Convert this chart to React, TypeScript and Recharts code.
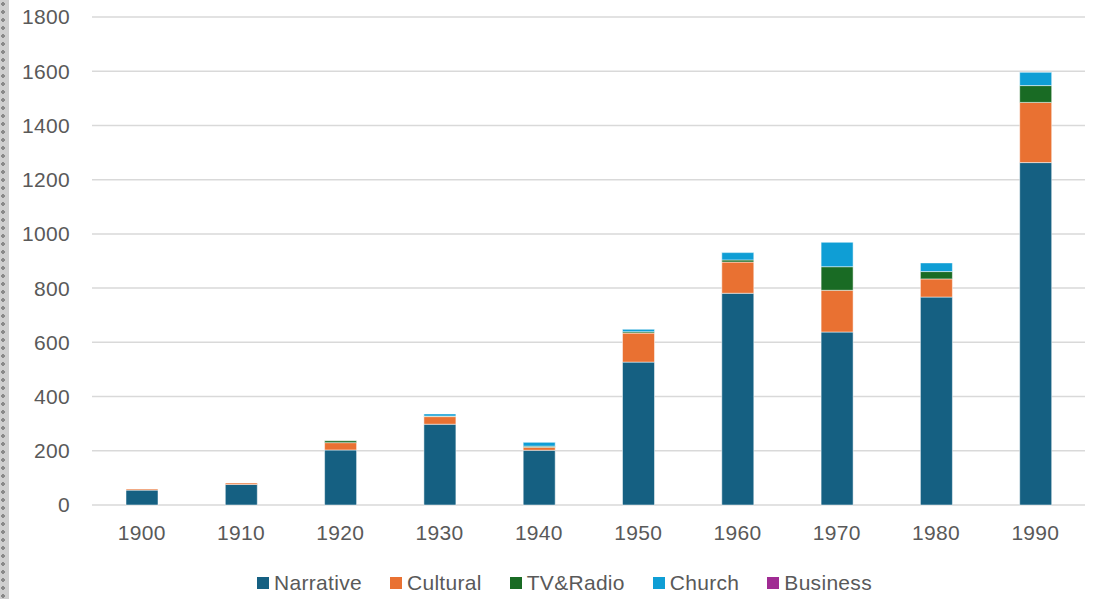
import { BarChart, Bar, XAxis, YAxis, CartesianGrid, Legend } from 'recharts';

const years = ['1900', '1910', '1920', '1930', '1940', '1950', '1960', '1970', '1980', '1990'];
const narrative = [55, 76, 203, 298, 202, 527, 781, 638, 767, 1263];
const cultural = [4, 5, 27, 28, 11, 107, 115, 154, 67, 222];
const tvRadio = [0, 0, 7, 2, 4, 5, 8, 87, 27, 62];
const church = [0, 0, 0, 8, 14, 9, 27, 90, 32, 49];
const business = [0, 0, 0, 0, 0, 0, 0, 0, 0, 0];
const yTicks = [0, 200, 400, 600, 800, 1000, 1200, 1400, 1600, 1800];

const SERIES = [
  { key: 'Narrative', color: '#156082' },
  { key: 'Cultural', color: '#E97132' },
  { key: 'TV&Radio', color: '#196B24' },
  { key: 'Church', color: '#0F9ED5' },
  { key: 'Business', color: '#A02B93' },
];

const data = years.map((year, i) => ({
  year,
  Narrative: narrative[i],
  Cultural: cultural[i],
  'TV&Radio': tvRadio[i],
  Church: church[i],
  Business: business[i],
}));

const FONT = '"Liberation Sans", Arial, sans-serif';
const TEXT = '#595959';

const LegendContent = () => (
  <div style={{ display: 'flex', justifyContent: 'center', alignItems: 'center', height: 24, paddingLeft: 44, fontFamily: FONT, fontSize: 21, letterSpacing: 0.3, color: TEXT }}>
    {SERIES.map((s) => (
      <div key={s.key} style={{ display: 'flex', alignItems: 'center', margin: '0 14px' }}>
        <span style={{ width: 12, height: 12, background: s.color, display: 'inline-block', marginRight: 5 }} />
        <span>{s.key}</span>
      </div>
    ))}
  </div>
);

export default function App() {
  return (
    <div style={{ position: 'absolute', left: 0, top: 0, width: 1104, height: 599, background: '#fff', overflow: 'hidden' }}>
      <div
        style={{
          position: 'absolute',
          left: 0,
          top: 0,
          width: 9,
          height: 599,
          background: 'radial-gradient(circle at 3px 4px, #8a8a8a 1.6px, transparent 2px) 0 0 / 9px 8px, #cfcfcf',
        }}
      />
      <BarChart
        width={1104}
        height={599}
        data={data}
        barSize={32}
        margin={{ top: 17, right: 19, left: 0, bottom: 4 }}
      >
        <CartesianGrid vertical={false} stroke="#d9d9d9" strokeWidth={1.5} />
        <XAxis
          dataKey="year"
          axisLine={false}
          tickLine={false}
          tickSize={0}
          tickMargin={20}
          height={66}
          tick={{ fill: TEXT, fontSize: 21, fontFamily: FONT, letterSpacing: 0.3 }}
        />
        <YAxis
          width={92}
          domain={[0, 1800]}
          ticks={yTicks}
          axisLine={false}
          tickLine={false}
          tickSize={0}
          tickMargin={22}
          tick={{ fill: TEXT, fontSize: 21, fontFamily: FONT, letterSpacing: 0.3 }}
        />
        <Legend verticalAlign="bottom" content={<LegendContent />} wrapperStyle={{ height: 24 }} />
        {SERIES.map((s) => (
          <Bar
            key={s.key}
            dataKey={s.key}
            stackId="a"
            fill={s.color}
            stroke="#ffffff"
            strokeWidth={0.5}
            isAnimationActive={false}
          />
        ))}
      </BarChart>
    </div>
  );
}
